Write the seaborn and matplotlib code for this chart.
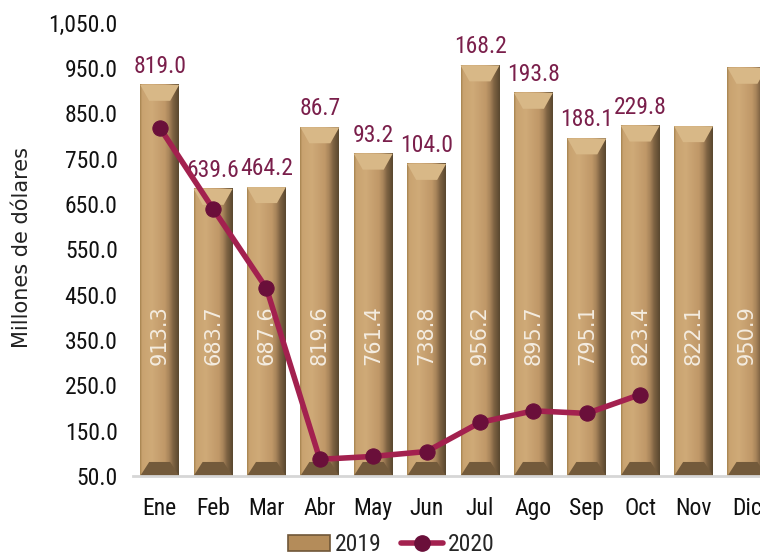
"""Exportaciones mensuales 2019 vs 2020 — barras biseladas con linea."""
import matplotlib
matplotlib.use("Agg")
import matplotlib.pyplot as plt
from matplotlib.colors import LinearSegmentedColormap
from matplotlib.patches import Polygon
from matplotlib.lines import Line2D
import seaborn as sns
import numpy as np
import pandas as pd

meses = ["Ene", "Feb", "Mar", "Abr", "May", "Jun", "Jul", "Ago", "Sep", "Oct", "Nov", "Dic"]
valores_2019 = [913.3, 683.7, 687.6, 819.6, 761.4, 738.8, 956.2, 895.7, 795.1, 823.4, 822.1, 950.9]
valores_2020 = [819.0, 639.6, 464.2, 86.7, 93.2, 104.0, 168.2, 193.8, 188.1, 229.8]
y_ticks = [50, 150, 250, 350, 450, 550, 650, 750, 850, 950, 1050]

sns.set_theme(style="white")
narrow = ["Roboto Condensed", "Liberation Sans", "DejaVu Sans"]
plt.rcParams["font.family"] = narrow

ORO = "#c09866"
VINO = "#a3214f"
VINO_OSCURO = "#6a0f3a"
ETIQUETA = "#7a1f4b"

df = pd.DataFrame({"mes": meses, "valor": valores_2019})

fig = plt.figure(figsize=(7.6, 5.58), dpi=100)
ax = fig.add_axes([0.175, 0.147, 0.843, 0.812])

sns.barplot(data=df, x="mes", y="valor", color=ORO, width=0.73,
            saturation=1, ax=ax, zorder=1)

ymin, ymax = y_ticks[0], y_ticks[-1]
ax.set_xlim(-0.5, len(meses) - 0.5)
ax.set_ylim(ymin, ymax)

# bevel look: gradient across the face plus lit top / shaded bottom facets
grad = LinearSegmentedColormap.from_list("oro", [
    (0.0, "#a98652"), (0.05, "#c9a370"), (0.3, "#cfaa78"),
    (0.64, "#c09868"), (0.76, "#a58259"), (0.86, "#7d6242"), (1.0, "#5a4830")])
px_x = ax.bbox.width / len(meses)
px_y = ax.bbox.height / (ymax - ymin)
for p in list(ax.patches):
    x0, w = p.get_x(), p.get_width()
    x1 = x0 + w
    yb = max(p.get_y(), ymin)
    yt = p.get_y() + p.get_height()
    dx = 9 / px_x
    dyt = 16 / px_y
    dyb = 14 / px_y
    ax.imshow(np.linspace(0, 1, 64).reshape(1, -1), cmap=grad, aspect="auto",
              extent=[x0, x1, yb, yt], zorder=1.5, interpolation="bilinear")
    ax.add_patch(Polygon([(x0, yt), (x1, yt), (x1 - dx, yt - dyt), (x0 + dx, yt - dyt)],
                         closed=True, fc="#d8b887", ec="none", zorder=1.6))
    ax.add_patch(Polygon([(x0, yb), (x1, yb), (x1 - dx, yb + dyb), (x0 + dx, yb + dyb)],
                         closed=True, fc="#735a3b", ec="none", zorder=1.6))
ax.set_xlim(-0.5, len(meses) - 0.5)
ax.set_ylim(ymin, ymax)

# 2019 values inside the bars
for i, v in enumerate(valores_2019):
    ax.text(i, 360, f"{v:.1f}", rotation=90, ha="center", va="center",
            color="#f4ece0", fontsize=15, family=["DejaVu Sans"], zorder=3)

# 2020 line
pos = np.arange(len(valores_2020))
sns.lineplot(x=pos, y=valores_2020, color=VINO, lw=4, marker="o", markersize=11,
             markerfacecolor=VINO_OSCURO, markeredgecolor=VINO_OSCURO,
             ax=ax, zorder=4, legend=False)

# 2020 values above the bars
for i, v in enumerate(valores_2020):
    ax.annotate(f"{v:.1f}", (i, valores_2019[i]), xytext=(0, 5),
                textcoords="offset points", ha="center", va="bottom",
                color=ETIQUETA, fontsize=17)

ax.set_yticks(y_ticks)
ax.set_yticklabels([f"{t:,.1f}" for t in y_ticks])
ax.tick_params(axis="y", length=0, pad=11, labelsize=17, colors="#111111")
ax.tick_params(axis="x", length=0, pad=15, labelsize=17, colors="#111111")
ax.set_xlabel("")
ax.set_ylabel("")
for s in ["left", "right", "top"]:
    ax.spines[s].set_visible(False)
ax.spines["bottom"].set_color("#d6d6d6")
ax.spines["bottom"].set_linewidth(2)
ax.grid(False)

fig.text(0.029, 0.556, "Millones de dólares", rotation=90, ha="center", va="center",
         fontsize=15, family=["DejaVu Sans"], color="#222222")

handles = [
    plt.Rectangle((0, 0), 1, 1, fc="#b48c5a", ec="#6f5638", lw=1.2),
    Line2D([], [], color=VINO, lw=4, marker="o", markersize=11,
           markerfacecolor=VINO_OSCURO, markeredgecolor=VINO_OSCURO),
]
fig.legend(handles, ["2019", "2020"], loc="lower center", ncol=2,
           bbox_to_anchor=(0.515, -0.035), frameon=False, fontsize=17,
           handlelength=1.8, handletextpad=0.2, columnspacing=0.8)

fig.savefig("out.png", dpi=100)
plt.close(fig)
